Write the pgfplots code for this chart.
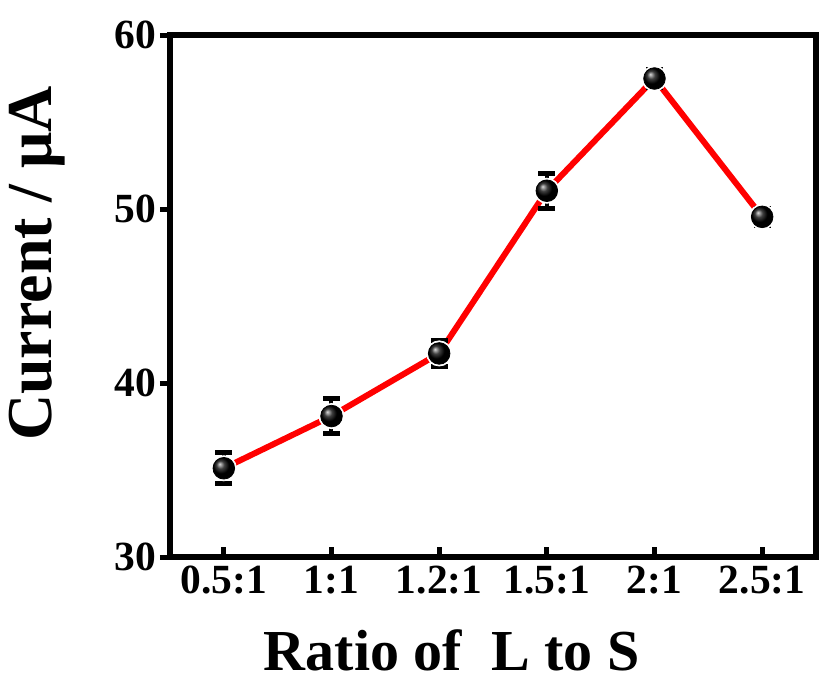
\documentclass[border=0pt]{standalone}
\usepackage{fontspec}
\setmainfont{Liberation Serif}
\usepackage{pgfplots}
\pgfplotsset{compat=1.18}
\begin{document}
\begin{tikzpicture}
\begin{axis}[
  at={(0,0)}, anchor=south west,
  scale only axis, width=323pt, height=261pt,
  xmin=-0.5, xmax=5.5, ymin=30, ymax=60,
  xtick={0,1,2,3,4,5},
  xticklabels={0.5:1,1:1,1.2:1,1.5:1,2:1,2.5:1},
  ytick={30,40,50,60},
  xtick pos=bottom, ytick pos=left,
  xtick align=inside, ytick align=outside,
  major tick length=5pt,
  axis line style={line width=2.75pt},
  every tick/.style={black, line width=2.5pt},
  /pgf/number format/assume math mode=true,
  tick label style={font=\bfseries\fontsize{20.75}{24}\selectfont},
  xticklabel style={yshift=-1pt},
  yticklabel style={xshift=1.5pt},
  xlabel={Ratio of\ \ L to S},
  xlabel style={at={(axis description cs:0.436,-0.2165)}, anchor=base,
    font=\bfseries\fontsize{29}{34}\selectfont},
  ylabel={Current / μA},
  ylabel style={at={(axis description cs:-0.1827,0.5626)}, anchor=base,
    font=\bfseries\fontsize{32}{38}\selectfont},
  clip=false,
]
% red connecting line
\addplot[red, line width=3pt, no marks] coordinates {
  (0,35.1) (1,38.1) (2,41.7) (3,51.05) (4,57.5) (5,49.55)
};
% white gap around markers
\addplot[only marks, mark=*, mark size=6.3pt, mark options={fill=white, draw=white}] coordinates {
  (0,35.1) (1,38.1) (2,41.7) (3,51.05) (4,57.5) (5,49.55)
};
% markers with error bars
\addplot[black, only marks, mark=ball, mark size=5.4pt, mark options={ball color=black},
  error bars/.cd, y dir=both, y explicit,
  error bar style={line width=2pt, black},
  error mark options={rotate=90, black, line width=2.5pt, mark size=4.2pt}]
  coordinates {
  (0,35.1) +- (0,0.9)
  (1,38.1) +- (0,1.0)
  (2,41.7) +- (0,0.77)
  (3,51.05) +- (0,1.0)
  (4,57.5) +- (0,0.5)
  (5,49.55) +- (0,0.5)
};
\end{axis}
\pgfresetboundingbox
\path[use as bounding box] (-85pt,-62.5pt) rectangle (325pt,278.5pt);
\end{tikzpicture}
\end{document}
